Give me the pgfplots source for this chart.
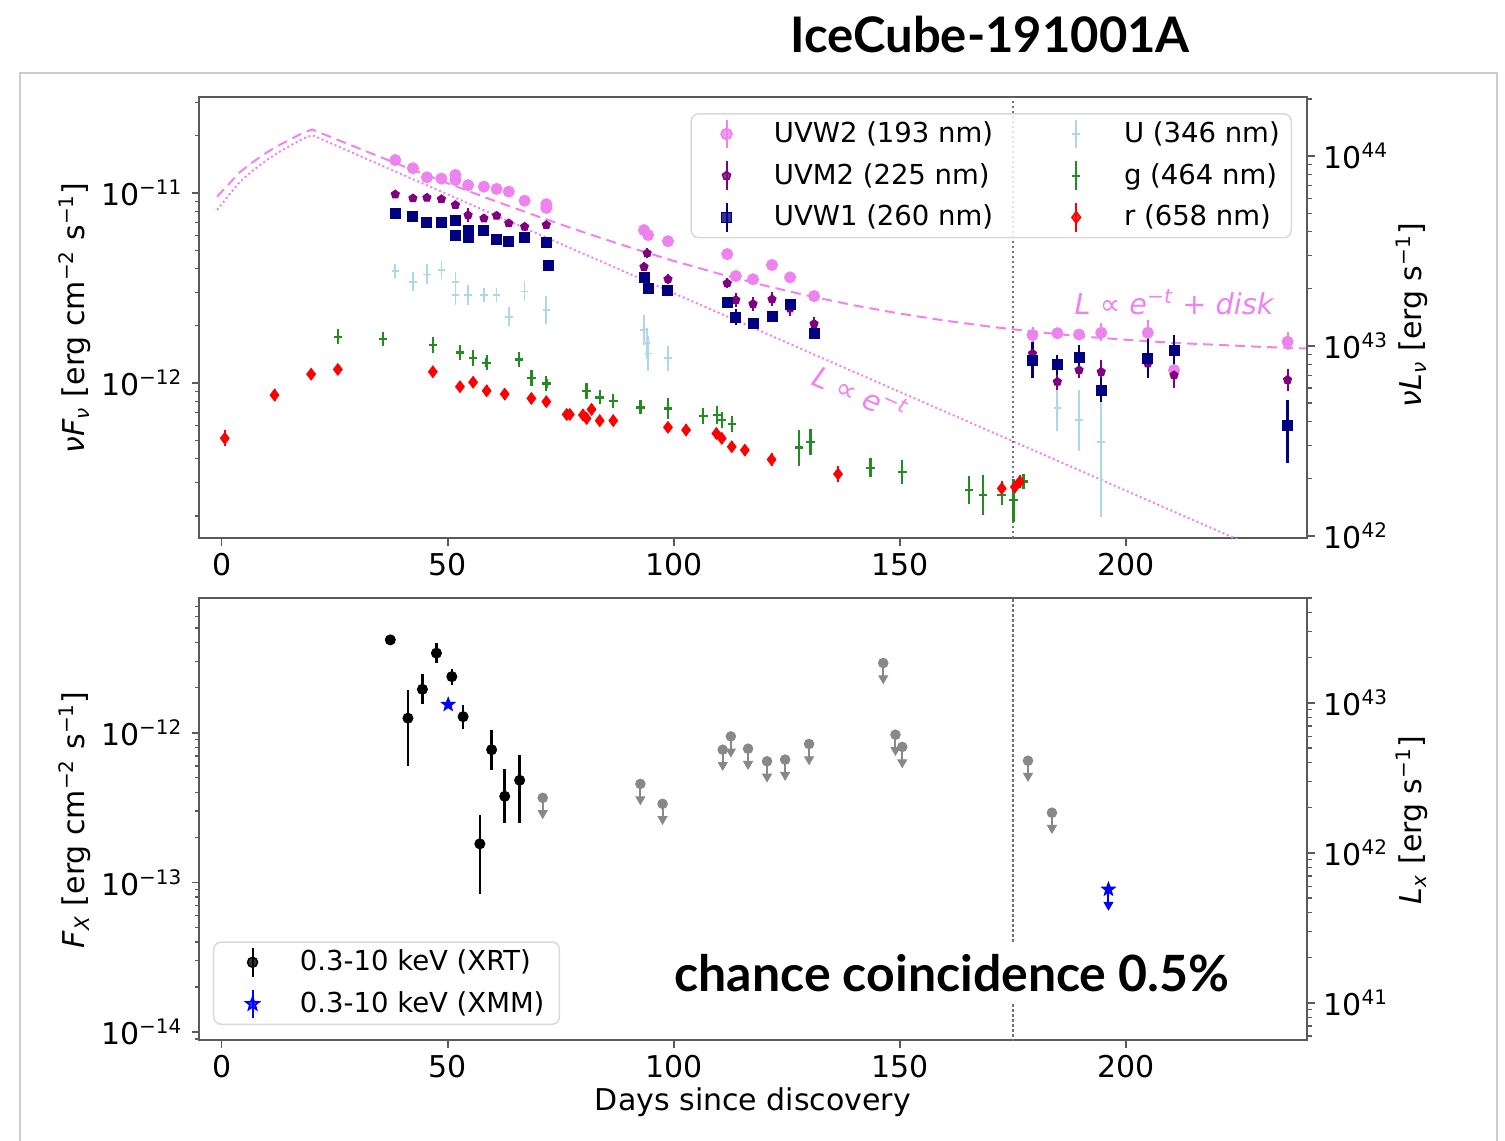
\documentclass[border=0pt]{standalone}
\usepackage{pgfplots}
\pgfplotsset{compat=1.18}
\usepackage{fontspec}
\setmainfont{DejaVu Sans}
\newfontfamily\titlefont{Lato}
\usetikzlibrary{plotmarks}

\definecolor{cvio}{RGB}{238,130,238}
\definecolor{cpur}{RGB}{128,0,128}
\definecolor{cnavy}{RGB}{0,0,128}
\definecolor{clb}{RGB}{173,216,230}
\definecolor{cgreen}{RGB}{34,139,34}
\definecolor{cred}{RGB}{255,0,0}
\definecolor{cblue}{RGB}{0,0,255}
\definecolor{cgray}{RGB}{136,136,136}
\definecolor{caxis}{RGB}{90,90,90}

\newcommand\tickfont{\fontsize{12}{14}\selectfont}
\newcommand\legfont{\fontsize{11}{13}\selectfont}
\newcommand\labfont{\fontsize{12}{14}\selectfont}
\newcommand\sq[1]{\textsuperscript{#1}}

\pgfdeclareplotmark{fstar}{%
  \pgfpathmoveto{\pgfpointpolar{90}{\pgfplotmarksize}}%
  \pgfpathlineto{\pgfpointpolar{126}{0.42\pgfplotmarksize}}%
  \pgfpathlineto{\pgfpointpolar{162}{\pgfplotmarksize}}%
  \pgfpathlineto{\pgfpointpolar{198}{0.42\pgfplotmarksize}}%
  \pgfpathlineto{\pgfpointpolar{234}{\pgfplotmarksize}}%
  \pgfpathlineto{\pgfpointpolar{270}{0.42\pgfplotmarksize}}%
  \pgfpathlineto{\pgfpointpolar{306}{\pgfplotmarksize}}%
  \pgfpathlineto{\pgfpointpolar{342}{0.42\pgfplotmarksize}}%
  \pgfpathlineto{\pgfpointpolar{18}{\pgfplotmarksize}}%
  \pgfpathlineto{\pgfpointpolar{54}{0.42\pgfplotmarksize}}%
  \pgfpathclose\pgfusepathqfillstroke}

\pgfplotsset{
  legimg/.style={legend image code/.code={
      \draw[##1, mark=none, line width=0.8pt] (0.43cm,-0.2cm) -- (0.43cm,0.2cm);
      \draw[##1, only marks] plot coordinates {(0.43cm,0cm)};
      \path (0cm,0cm) (0.98cm,0cm);}},
}

\begin{document}
\begin{tikzpicture}
\path[use as bounding box] (0,0) rectangle (602pt,-456.4pt);
\draw[black!20, line width=1pt] (8pt,-470pt) -- (8pt,-29.2pt) -- (598.8pt,-29.2pt) -- (598.8pt,-470pt);

% ---------------- top panel ----------------
\begin{axis}[scale only axis, width=443.2pt, height=176.4pt,
  at={(79.6pt,-215.2pt)}, anchor=south west,
  xmin=-5, xmax=240, ymode=log, ymin=1.53e-13, ymax=3.2e-11,
  axis line style={draw=caxis, line width=0.9pt},
  major tick style={draw=caxis, line width=0.7pt},
  minor tick style={draw=caxis, line width=0.5pt},
  tick align=outside, major tick length=3pt, minor tick length=1.8pt,
  tick label style={font=\tickfont},
  xticklabel style={yshift=0.6pt},
  xtick pos=left, ytick pos=left,
  xtick={0,50,100,150,200}, xticklabels={0,50,100,150,200},
  ytick={1e-12,1e-11}, yticklabels={10\sq{−12},10\sq{−11}},
  minor ytick={2e-13,3e-13,4e-13,5e-13,6e-13,7e-13,8e-13,9e-13,2e-12,3e-12,4e-12,5e-12,6e-12,7e-12,8e-12,9e-12,2e-11,3e-11},
  legend columns=2, legend cell align=left,
  legend style={at={(0.9865,0.9637)}, anchor=north east, draw=black!15, line width=0.6pt,
    rounded corners=3pt, fill=white, fill opacity=0.8, draw opacity=1, text opacity=1,
    inner xsep=1.6pt,
    font=\legfont, row sep=4.5pt, nodes={inner xsep=3pt, inner ysep=1pt},
    /tikz/every even column/.append style={column sep=17.5pt}},
]
\addplot[forget plot, cvio, line width=0.8pt, dash pattern=on 0.8pt off 1.1pt] coordinates {
(-1,8.15e-12)(2,1.0e-11)(4,1.143e-11)(7,1.318e-11)(10,1.493e-11)(13,1.66e-11)(16,1.82e-11)(18,1.93e-11)(20,2.018e-11)
(60,7.74e-12)(100,2.97e-12)(140,1.14e-12)(180,4.38e-13)(220,1.68e-13)(240,1.04e-13)};
\addplot[forget plot, cvio, line width=0.8pt, dash pattern=on 4pt off 2.4pt] coordinates {
(-1,9.57e-12)(2,1.142e-11)(4,1.285e-11)(7,1.46e-11)(10,1.635e-11)(13,1.80e-11)(16,1.96e-11)(18,2.07e-11)(20,2.16e-11)
(30,1.73e-11)(40,1.39e-11)(50,1.126e-11)(60,9.16e-12)(70,7.52e-12)(80,6.22e-12)(90,5.20e-12)(100,4.39e-12)
(110,3.76e-12)(120,3.26e-12)(130,2.87e-12)(140,2.56e-12)(150,2.32e-12)(160,2.13e-12)(170,1.98e-12)(180,1.86e-12)
(190,1.76e-12)(200,1.69e-12)(210,1.63e-12)(220,1.59e-12)(230,1.55e-12)(240,1.52e-12)};
\addplot[forget plot, black!55, line width=1pt, densely dotted] coordinates {(175,1e-14)(175,1e-10)};

% UVW2
\addplot[only marks, mark=*, mark size=2.2pt, color=cvio, legimg,
  error bars/y dir=both, error bars/y explicit relative, error bars/error mark=none,
  error bars/error bar style={line width=0.8pt}]
  table[x=t,y=f,y error plus=ep,y error minus=em]{
t f ep em
38.4 1.49e-11 0.04 0.035
42.3 1.35e-11 0.04 0.035
45.4 1.21e-11 0.04 0.035
48.6 1.19e-11 0.04 0.035
51.7 1.245e-11 0.06 0.05
51.7 1.17e-11 0.04 0.035
54.5 1.10e-11 0.04 0.035
58.0 1.08e-11 0.04 0.035
60.8 1.05e-11 0.04 0.035
63.5 1.017e-11 0.04 0.035
67.0 9.1e-12 0.04 0.035
71.8 8.73e-12 0.05 0.045
71.8 8.34e-12 0.05 0.045
93.4 6.38e-12 0.05 0.045
94.3 6.01e-12 0.05 0.045
98.7 5.58e-12 0.05 0.045
111.8 4.77e-12 0.05 0.045
113.7 3.66e-12 0.05 0.045
117.5 3.52e-12 0.05 0.045
121.7 4.18e-12 0.05 0.045
125.7 3.60e-12 0.05 0.045
131.0 2.87e-12 0.05 0.045
179.3 1.79e-12 0.10 0.09
184.8 1.83e-12 0.05 0.045
189.6 1.80e-12 0.06 0.055
194.5 1.84e-12 0.12 0.10
204.8 1.84e-12 0.16 0.13
210.6 1.17e-12 0.08 0.07
235.7 1.65e-12 0.12 0.10
};
\addlegendentry{UVW2 (193 nm)}

% U
\addplot[only marks, mark=+, mark size=1.5pt, line width=0.7pt, color=clb, legimg,
  error bars/y dir=both, error bars/y explicit relative, error bars/error mark=none,
  error bars/error bar style={line width=0.7pt}]
  table[x=t,y=f,y error plus=ep,y error minus=em]{
t f ep em
38.4 3.88e-12 0.09 0.08
42.3 3.41e-12 0.13 0.11
45.4 3.73e-12 0.13 0.11
48.6 3.94e-12 0.12 0.10
51.7 3.41e-12 0.13 0.11
51.7 2.90e-12 0.13 0.11
54.5 2.90e-12 0.13 0.11
58.0 2.90e-12 0.09 0.08
60.8 2.90e-12 0.09 0.08
63.5 2.23e-12 0.13 0.11
67.0 3.03e-12 0.13 0.11
71.8 2.42e-12 0.18 0.15
93.4 1.90e-12 0.20 0.17
94.0 1.62e-12 0.20 0.17
94.3 1.43e-12 0.23 0.19
98.7 1.35e-12 0.16 0.14
184.8 7.36e-13 0.32 0.24
189.6 6.38e-13 0.44 0.31
194.5 4.91e-13 0.83 0.60
};
\addlegendentry{U (346 nm)}

% UVM2
\addplot[only marks, mark=pentagon*, mark size=1.7pt, color=cpur, legimg,
  error bars/y dir=both, error bars/y explicit relative, error bars/error mark=none,
  error bars/error bar style={line width=0.8pt}]
  table[x=t,y=f,y error plus=ep,y error minus=em]{
t f ep em
38.4 9.84e-12 0.05 0.045
42.3 9.38e-12 0.05 0.045
45.4 9.45e-12 0.05 0.045
48.6 9.29e-12 0.05 0.045
51.7 8.65e-12 0.05 0.045
54.5 7.65e-12 0.09 0.08
58.0 7.36e-12 0.05 0.045
60.8 7.60e-12 0.05 0.045
63.5 6.93e-12 0.05 0.045
67.0 6.65e-12 0.05 0.045
71.8 6.79e-12 0.05 0.045
93.4 4.09e-12 0.06 0.055
94.1 4.82e-12 0.06 0.055
98.7 3.52e-12 0.07 0.06
111.8 3.35e-12 0.07 0.06
113.7 2.74e-12 0.09 0.08
117.5 2.61e-12 0.09 0.08
121.7 2.76e-12 0.09 0.08
125.7 2.47e-12 0.10 0.09
131.0 2.05e-12 0.09 0.08
179.3 1.43e-12 0.10 0.09
184.8 1.016e-12 0.12 0.10
189.6 1.17e-12 0.10 0.09
194.5 1.146e-12 0.16 0.135
204.8 1.27e-12 0.10 0.09
210.6 1.10e-12 0.17 0.145
235.7 1.04e-12 0.14 0.125
};
\addlegendentry{UVM2 (225 nm)}

% g
\addplot[only marks, mark=+, mark size=1.7pt, line width=0.95pt, color=cgreen, legimg,
  error bars/y dir=both, error bars/y explicit relative, error bars/error mark=none,
  error bars/error bar style={line width=0.9pt}]
  table[x=t,y=f,y error plus=ep,y error minus=em]{
t f ep em
25.7 1.754e-12 0.10 0.09
35.7 1.70e-12 0.09 0.08
46.7 1.585e-12 0.10 0.09
52.7 1.45e-12 0.10 0.09
55.6 1.35e-12 0.10 0.09
58.6 1.28e-12 0.10 0.09
65.8 1.33e-12 0.10 0.09
68.5 1.06e-12 0.10 0.09
71.8 9.96e-13 0.10 0.09
80.7 9.1e-13 0.10 0.09
83.6 8.41e-13 0.09 0.08
86.6 8.07e-13 0.09 0.08
92.6 7.45e-13 0.09 0.08
98.7 7.36e-13 0.14 0.12
106.5 6.70e-13 0.10 0.09
109.6 6.79e-13 0.12 0.10
110.6 6.38e-13 0.10 0.09
112.8 6.07e-13 0.10 0.09
127.7 4.59e-13 0.24 0.20
130.2 4.91e-13 0.17 0.15
143.5 3.58e-13 0.13 0.11
150.5 3.41e-13 0.16 0.135
165.3 2.74e-13 0.19 0.16
168.4 2.58e-13 0.27 0.215
172.5 2.58e-13 0.13 0.11
175.1 2.42e-13 0.30 0.23
177.3 3.03e-13 0.10 0.09
};
\addlegendentry{g (464 nm)}

% UVW1
\addplot[only marks, mark=square*, mark size=2pt, color=cnavy, legimg,
  error bars/y dir=both, error bars/y explicit relative, error bars/error mark=none,
  error bars/error bar style={line width=0.9pt}]
  table[x=t,y=f,y error plus=ep,y error minus=em]{
t f ep em
38.4 7.82e-12 0.04 0.035
42.3 7.50e-12 0.04 0.035
45.4 7.02e-12 0.04 0.035
48.6 6.98e-12 0.04 0.035
51.7 7.13e-12 0.04 0.035
51.7 6.01e-12 0.04 0.035
54.5 6.38e-12 0.04 0.035
54.5 5.86e-12 0.04 0.035
58.0 6.38e-12 0.04 0.035
60.8 5.66e-12 0.04 0.035
63.5 5.55e-12 0.04 0.035
67.0 5.82e-12 0.04 0.035
71.8 5.51e-12 0.04 0.035
72.3 4.14e-12 0.04 0.035
93.4 3.60e-12 0.06 0.05
94.3 3.15e-12 0.06 0.05
98.7 3.08e-12 0.06 0.05
111.8 2.65e-12 0.06 0.05
113.7 2.22e-12 0.10 0.09
117.5 2.06e-12 0.06 0.05
121.7 2.23e-12 0.06 0.05
125.7 2.58e-12 0.06 0.05
131.0 1.83e-12 0.06 0.05
179.3 1.32e-12 0.244 0.196
184.8 1.245e-12 0.129 0.114
189.6 1.37e-12 0.157 0.135
194.5 9.19e-13 0.157 0.135
204.8 1.35e-12 0.274 0.215
210.6 1.49e-12 0.199 0.166
235.7 6.01e-13 0.354 0.369
};
\addlegendentry{UVW1 (260 nm)}

% r
\addplot[only marks, mark=diamond*, mark size=2.3pt, color=cred, legimg,
  error bars/y dir=both, error bars/y explicit relative, error bars/error mark=none,
  error bars/error bar style={line width=0.8pt}]
  table[x=t,y=f,y error plus=ep,y error minus=em]{
t f ep em
0.7 5.12e-13 0.10 0.09
11.7 8.65e-13 0.07 0.065
19.8 1.114e-12 0.07 0.065
25.7 1.18e-12 0.07 0.065
46.7 1.146e-12 0.07 0.065
52.7 9.57e-13 0.07 0.065
55.6 1.01e-12 0.07 0.065
58.6 9.1e-13 0.07 0.065
62.6 8.75e-13 0.07 0.065
68.5 8.3e-13 0.07 0.065
71.8 7.98e-13 0.07 0.065
76.3 6.84e-13 0.07 0.065
77.0 6.84e-13 0.07 0.065
79.9 6.79e-13 0.07 0.065
80.7 6.52e-13 0.07 0.065
81.8 7.27e-13 0.07 0.065
83.6 6.34e-13 0.07 0.065
86.6 6.34e-13 0.07 0.065
98.7 5.85e-13 0.07 0.065
102.7 5.66e-13 0.08 0.07
109.4 5.43e-13 0.07 0.065
110.6 5.12e-13 0.07 0.065
112.8 4.62e-13 0.07 0.065
115.7 4.44e-13 0.07 0.065
121.6 3.96e-13 0.08 0.07
136.3 3.32e-13 0.10 0.09
172.5 2.79e-13 0.10 0.09
175.4 2.84e-13 0.08 0.07
176.5 3.03e-13 0.08 0.07
};
\addlegendentry{r (658 nm)}

\node[text=cvio, font=\fontsize{11.5}{14}\selectfont\itshape] at (axis cs:210.6,2.67e-12) {L ∝ e\sq{−t} + disk};
\node[text=cvio, font=\fontsize{11.5}{14}\selectfont\itshape, rotate=-24] at (axis cs:141.2,8.86e-13) {L ∝ e\sq{−t}};
\end{axis}

\begin{axis}[scale only axis, width=443.2pt, height=176.4pt, at={(79.6pt,-215.2pt)}, anchor=south west,
  xmin=0, xmax=1, ymode=log, ymin=9.75e41, ymax=2.05e44,
  axis x line=none, axis y line*=right,
  axis line style={-, draw=caxis, line width=0.9pt},
  major tick style={draw=caxis, line width=0.7pt},
  minor tick style={draw=caxis, line width=0.5pt},
  tick align=outside, major tick length=3pt, minor tick length=1.8pt,
  tick label style={font=\tickfont},
  ytick={1e42,1e43,1e44}, yticklabels={10\sq{42},10\sq{43},10\sq{44}},
  minor ytick={2e42,3e42,4e42,5e42,6e42,7e42,8e42,9e42,2e43,3e43,4e43,5e43,6e43,7e43,8e43,9e43,2e44}]
\addplot[draw=none, forget plot] coordinates {(0.5,1e43)};
\end{axis}

% ---------------- bottom panel ----------------
\begin{axis}[scale only axis, width=443.2pt, height=176.8pt,
  at={(79.6pt,-416pt)}, anchor=south west,
  xmin=-5, xmax=240, ymode=log, ymin=8.85e-15, ymax=7.94e-12,
  axis line style={draw=caxis, line width=0.9pt},
  major tick style={draw=caxis, line width=0.7pt},
  minor tick style={draw=caxis, line width=0.5pt},
  tick align=outside, major tick length=3pt, minor tick length=1.8pt,
  tick label style={font=\tickfont},
  xticklabel style={yshift=0.6pt},
  xtick pos=left, ytick pos=left,
  xtick={0,50,100,150,200}, xticklabels={0,50,100,150,200},
  ytick={1e-14,1e-13,1e-12}, yticklabels={10\sq{−14},10\sq{−13},10\sq{−12}},
  minor ytick={9e-15,2e-14,3e-14,4e-14,5e-14,6e-14,7e-14,8e-14,9e-14,2e-13,3e-13,4e-13,5e-13,6e-13,7e-13,8e-13,9e-13,2e-12,3e-12,4e-12,5e-12,6e-12,7e-12},
  legend cell align=left,
  legend style={at={(0.0126,0.034)}, anchor=south west, draw=black!15, line width=0.6pt,
    rounded corners=3pt, fill=white, fill opacity=0.8, draw opacity=1, text opacity=1,
    font=\legfont, row sep=4.5pt, nodes={inner xsep=3pt, inner ysep=1pt}},
]
\addplot[forget plot, black!55, line width=1pt, densely dotted] coordinates {(175,1e-15)(175,1e-10)};

% upper limits: points with a line down
\addplot[forget plot, only marks, mark=*, mark size=1.9pt, color=cgray,
  error bars/y dir=minus, error bars/y fixed relative=0.21,
  error bars/error mark=none,
  error bars/error bar style={line width=0.8pt, cgray}]
  table[x=t,y=f]{
t f
71.0 3.67e-13
92.6 4.55e-13
97.5 3.35e-13
110.8 7.70e-13
112.6 9.45e-13
116.4 7.82e-13
120.6 6.44e-13
124.6 6.61e-13
129.9 8.41e-13
146.3 2.92e-12
149.0 9.70e-13
150.5 8.03e-13
178.3 6.50e-13
183.6 2.92e-13
};
% upper limits: arrow heads
\addplot[forget plot, only marks, mark=triangle*, mark size=2pt, mark options={rotate=180}, color=cgray]
  table[x=t,y=f]{
t f
71.0 2.90e-13
92.6 3.59e-13
97.5 2.65e-13
110.8 6.08e-13
112.6 7.47e-13
116.4 6.18e-13
120.6 5.09e-13
124.6 5.22e-13
129.9 6.64e-13
146.3 2.31e-12
149.0 7.66e-13
150.5 6.34e-13
178.3 5.14e-13
183.6 2.31e-13
};

% XRT
\addplot[only marks, mark=*, mark size=2pt, color=black, legimg,
  error bars/y dir=both, error bars/y explicit relative, error bars/error mark=none,
  error bars/error bar style={line width=1pt}]
  table[x=t,y=f,y error plus=ep,y error minus=em]{
t f ep em
37.3 4.17e-12 0.02 0.02
41.2 1.25e-12 0.545 0.524
44.4 1.95e-12 0.259 0.206
47.5 3.40e-12 0.166 0.142
50.9 2.37e-12 0.131 0.116
53.4 1.28e-12 0.202 0.168
57.1 1.81e-13 0.56 0.541
59.7 7.70e-13 0.359 0.264
62.6 3.76e-13 0.514 0.339
65.9 4.81e-13 0.483 0.481
};
\addlegendentry{0.3-10 keV (XRT)}

% XMM
\addplot[only marks, mark=fstar, mark size=2.8pt, color=cblue, legimg]
  table[x=t,y=f]{
t f
50.1 1.54e-12
};
\addlegendentry{0.3-10 keV (XMM)}

\addplot[forget plot, only marks, mark=fstar, mark size=2.8pt, color=cblue,
  error bars/y dir=minus, error bars/y fixed relative=0.21,
  error bars/error mark=none,
  error bars/error bar style={line width=0.8pt, cblue}]
  table[x=t,y=f]{
t f
196.1 8.98e-14
};
\addplot[forget plot, only marks, mark=triangle*, mark size=2pt, mark options={rotate=180}, color=cblue]
  table[x=t,y=f]{
t f
196.1 7.09e-14
};
\end{axis}

\begin{axis}[scale only axis, width=443.2pt, height=176.8pt, at={(79.6pt,-416pt)}, anchor=south west,
  xmin=0, xmax=1, ymode=log, ymin=5.66e40, ymax=5.01e43,
  axis x line=none, axis y line*=right,
  axis line style={-, draw=caxis, line width=0.9pt},
  major tick style={draw=caxis, line width=0.7pt},
  minor tick style={draw=caxis, line width=0.5pt},
  tick align=outside, major tick length=3pt, minor tick length=1.8pt,
  tick label style={font=\tickfont},
  ytick={1e41,1e42,1e43}, yticklabels={10\sq{41},10\sq{42},10\sq{43}},
  minor ytick={6e40,7e40,8e40,9e40,2e41,3e41,4e41,5e41,6e41,7e41,8e41,9e41,2e42,3e42,4e42,5e42,6e42,7e42,8e42,9e42,2e43,3e43,4e43,5e43}]
\addplot[draw=none, forget plot] coordinates {(0.5,1e42)};
\end{axis}

% ---------------- labels ----------------
\node[font=\labfont, rotate=90] at (30pt,-127.2pt) {\textit{ν}\textit{F}\textsubscript{\textit{ν}} [erg cm\sq{−2} s\sq{−1}]};
\node[font=\labfont, rotate=90] at (564.8pt,-126pt) {\textit{ν}\textit{L}\textsubscript{\textit{ν}} [erg s\sq{−1}]};
\node[font=\labfont, rotate=90] at (30pt,-328pt) {\textit{F}\textsubscript{\textit{X}} [erg cm\sq{−2} s\sq{−1}]};
\node[font=\labfont, rotate=90] at (564.8pt,-328pt) {\textit{L}\textsubscript{\textit{x}} [erg s\sq{−1}]};
\node[font=\labfont] at (301.2pt,-440.8pt) {Days since discovery};
\node[fill=white, inner sep=2pt, font={\titlefont\bfseries\fontsize{19.6}{22}\selectfont}] at (396pt,-14pt) {IceCube-191001A};
\node[fill=white, inner xsep=2pt, inner ysep=4pt, font={\titlefont\bfseries\fontsize{20}{23}\selectfont}] at (380.8pt,-389.2pt) {chance coincidence 0.5\%};
\end{tikzpicture}
\end{document}
